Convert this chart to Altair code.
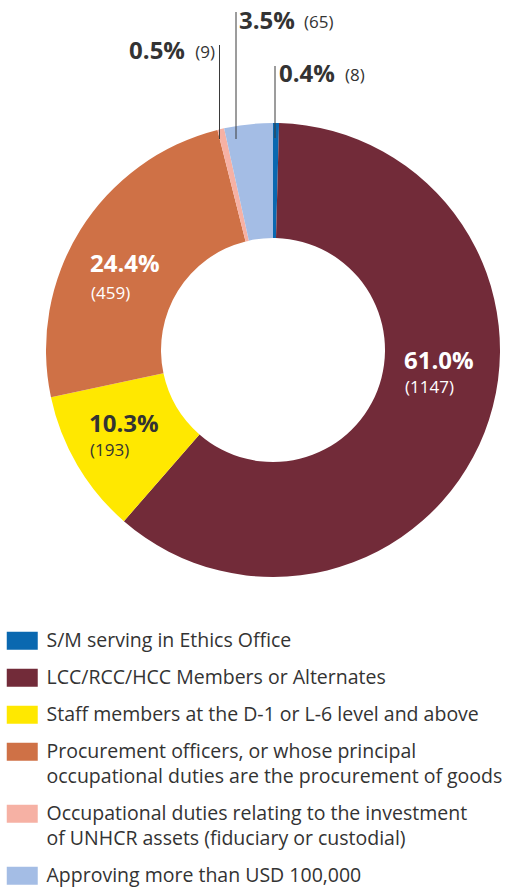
import altair as alt
import pandas as pd

# ---- data ----
categories = [
    "S/M serving in Ethics Office",
    "LCC/RCC/HCC Members or Alternates",
    "Staff members at the D-1 or L-6 level and above",
    "Procurement officers, or whose principal|occupational duties are the procurement of goods",
    "Occupational duties relating to the investment|of UNHCR assets (fiduciary or custodial)",
    "Approving more than USD 100,000",
]
counts = [8, 1147, 193, 459, 9, 65]
percents = ["0.4%", "61.0%", "10.3%", "24.4%", "0.5%", "3.5%"]
colors = ["#0a68b0", "#722b39", "#ffe800", "#cf7146", "#f6b1a4", "#a4bde5"]

df = pd.DataFrame({
    "idx": list(range(len(categories))),
    "category": categories,
    "count": counts,
    "pct": percents,
    "cnt": ["(" + str(c) + ")" for c in counts],
})

FONT = "Open Sans"
DARK = "#333333"
CX, CY = 273, 350

symbol_path = "M-1.722,-1L1.722,-1L1.722,1L-1.722,1Z"

donut = alt.Chart(df).mark_arc(innerRadius=112, outerRadius=227).encode(
    theta=alt.Theta("count:Q", stack=True),
    order=alt.Order("idx:Q"),
    color=alt.Color(
        "category:N",
        scale=alt.Scale(domain=categories, range=colors),
        sort=categories,
        legend=alt.Legend(
            orient="none", legendX=12.5, legendY=631, title=None,
            symbolType=symbol_path, symbolSize=324, symbolStrokeWidth=0,
            symbolOpacity=1,
            labelFont=FONT, labelFontSize=19.5, labelColor=DARK,
            labelOffset=14.5, rowPadding=16, labelLimit=600,
            labelExpr="split(datum.label, '|')",
            padding=0,
        ),
    ),
    x=alt.value(CX), y=alt.value(CY),
)

layers = [donut]


def label(i, field, x, y, color, size, weight, align="left"):
    return alt.Chart(df).transform_filter(alt.datum.idx == i).mark_text(
        font=FONT, fontSize=size, fontWeight=weight, color=color,
        align=align, baseline="middle",
    ).encode(text=f"{field}:N", x=alt.value(x), y=alt.value(y))


def leader(i, x, y1, y2):
    return alt.Chart(df).transform_filter(alt.datum.idx == i).mark_rule(
        color="#3a3a3a", strokeWidth=1,
    ).encode(x=alt.value(x), y=alt.value(y1), y2=alt.value(y2))


# inner labels
layers += [
    label(1, "pct", 404, 362, "white", 24, "bold"),
    label(1, "cnt", 405, 388, "white", 17, "normal"),
    label(3, "pct", 90, 265, "white", 24, "bold"),
    label(3, "cnt", 91, 294, "white", 17, "normal"),
    label(2, "pct", 89, 425, DARK, 24, "bold"),
    label(2, "cnt", 90, 451, DARK, 17, "normal"),
]
# outer labels with leader lines
layers += [
    leader(0, 275, 66, 138),
    label(0, "pct", 279, 75, DARK, 24, "bold"),
    label(0, "cnt", 345, 76, DARK, 17, "normal"),
    leader(5, 236, 12, 139),
    label(5, "pct", 239, 22, DARK, 24, "bold"),
    label(5, "cnt", 304, 23, DARK, 17, "normal"),
    leader(4, 219.5, 45, 139),
    label(4, "pct", 185, 52, DARK, 24, "bold", align="right"),
    label(4, "cnt", 215, 53, DARK, 17, "normal", align="right"),
]

chart = alt.layer(*layers).properties(
    width=513, height=889,
    autosize=alt.AutoSizeParams(type="none"),
    padding=0,
).configure(
    style={"guide-label": {"lineHeight": 25}}
).configure_view(stroke=None)

chart.save("out.html", embed_options={"renderer": "svg", "actions": False})
